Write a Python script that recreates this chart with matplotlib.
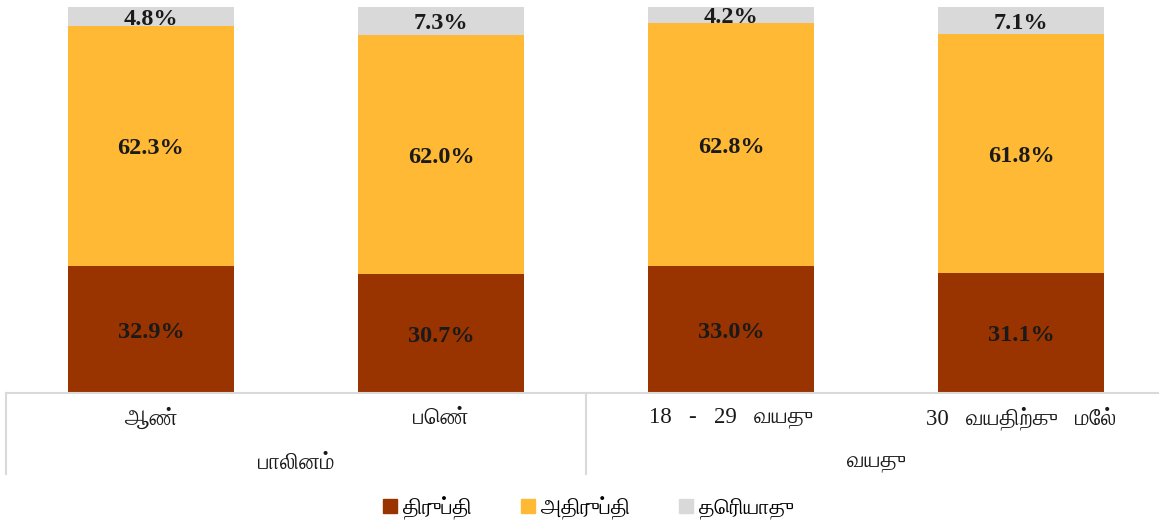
import matplotlib
matplotlib.use("Agg")
import matplotlib.pyplot as plt
from matplotlib import font_manager
from matplotlib.ft2font import FT2Font
from matplotlib.patches import Patch
import numpy as np

categories = ["ஆண்", "பெண்", "18   -   29   வயது", "30   வயதிற்கு   மேல்"]
groups = ["பாலினம்", "வயது"]
series_names = ["திருப்தி", "அதிருப்தி", "தெரியாது"]
satisfied = [32.9, 30.7, 33.0, 31.1]
dissatisfied = [62.3, 62.0, 62.8, 61.8]
dont_know = [4.8, 7.3, 4.2, 7.1]
colors = ["#993300", "#FFB935", "#D9D9D9"]


# look for any installed font that can draw Tamil
def find_tamil_font():
    paths = set(f.fname for f in font_manager.fontManager.ttflist)
    paths |= set(font_manager.findSystemFonts())
    found = []
    for p in sorted(paths):
        try:
            ft = FT2Font(p)
            if ft.get_char_index(0x0BA4) and ft.get_char_index(0x0BC6):
                found.append(p)
        except Exception:
            pass
    if not found:
        return None
    # prefer a serif-looking one if there is a choice
    found.sort(key=lambda p: ("Serif" not in p, "Bold" in p, p))
    font_manager.fontManager.addfont(found[0])
    return font_manager.FontProperties(fname=found[0]).get_name()


tamil = find_tamil_font()
fam = ["Liberation Serif"] + ([tamil] if tamil else []) + ["DejaVu Sans"]
plt.rcParams["font.family"] = fam

fig = plt.figure(figsize=(11.59, 5.23), dpi=100)
ax = fig.add_axes([6 / 1159, 1 - 393 / 523, 1 - 6 / 1159, 386 / 523])

x = np.arange(len(categories))
w = 0.572
stacks = [satisfied, dissatisfied, dont_know]
bottom = np.zeros(len(categories))
for vals, c in zip(stacks, colors):
    vals = np.array(vals)
    ax.bar(x, vals, w, bottom=bottom, color=c, zorder=2)
    for xi, b, v in zip(x, bottom, vals):
        ax.annotate(f"{v:.1f}%", (xi, b + v / 2), xytext=(0, -2),
                    textcoords="offset points", ha="center", va="center",
                    fontsize=17.5, fontweight="bold", color="#1a1a1a",
                    family=["Liberation Serif"])
    bottom += vals

ax.set_xlim(-0.5, -0.5 + 1153 / 290)
ax.set_ylim(0, 100)
ax.set_yticks([])
ax.set_xticks([])
for s in ["top", "right", "left"]:
    ax.spines[s].set_visible(False)
ax.spines["bottom"].set_color("#D9D9D9")
ax.spines["bottom"].set_linewidth(1.5)

trans = ax.get_xaxis_transform()
for xs in [-0.5, 1.5, 3.5]:
    ax.plot([xs, xs], [0, -0.21], transform=trans, color="#D9D9D9",
            lw=1.5, clip_on=False)
for xi, lab in zip(x, categories):
    ax.text(xi, -0.066, lab, transform=trans, ha="center", va="center",
            fontsize=16.5, color="#1a1a1a")
for gx, g in zip([0.5, 2.5], groups):
    ax.text(gx, -0.183, g, transform=trans, ha="center", va="center",
            fontsize=16.5, color="#1a1a1a")

handles = [Patch(color=c) for c in colors]
fig.legend(handles, series_names, loc="center", bbox_to_anchor=(0.508, 1 - 508 / 523),
           ncol=3, frameon=False, fontsize=16, handlelength=0.6, handleheight=0.6,
           handletextpad=0.3, columnspacing=2.2)

fig.savefig("out.png", dpi=100)
